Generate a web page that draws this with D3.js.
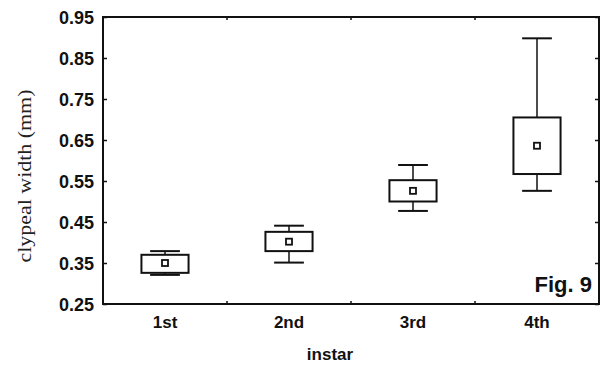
<html>
<script src="https://d3js.org/d3.v7.min.js"></script>
<style>
body { margin: 0; background: white; }
.tick text { font-family: 'Liberation Sans', Arial, sans-serif; font-weight: bold; fill: #111; }
</style>
<body>
<svg width="609" height="368"></svg>
<script>
// clypeal width per instar (mm)
const categories = ["1st", "2nd", "3rd", "4th"];
const whiskerLow = [0.321, 0.351, 0.477, 0.526];
const boxLow = [0.326, 0.379, 0.500, 0.567];
const middle = [0.350, 0.402, 0.526, 0.636];
const boxHigh = [0.370, 0.426, 0.552, 0.705];
const whiskerHigh = [0.379, 0.441, 0.589, 0.898];
const yTicks = [0.25, 0.35, 0.45, 0.55, 0.65, 0.75, 0.85, 0.95];

const pLeft = 103, pRight = 599, pTop = 17, pBottom = 304;
const svg = d3.select("svg");

const x = d3.scaleBand().domain(categories).range([pLeft, pRight]);
const y = d3.scaleLinear().domain([0.25, 0.95]).range([pBottom, pTop]);

const data = categories.map((c, i) => ({
    cat: c, wl: whiskerLow[i], bl: boxLow[i], m: middle[i], bh: boxHigh[i], wh: whiskerHigh[i]
}));

// y axis, ticks inward
const yAxis = svg.append("g")
    .attr("transform", `translate(${pLeft},0)`)
    .call(d3.axisLeft(y).tickValues(yTicks).tickFormat(d3.format(".2f")).tickSizeInner(-4).tickSizeOuter(0).tickPadding(9));
yAxis.select(".domain").remove();
yAxis.selectAll("line").attr("stroke", "#111").attr("stroke-width", 1.5);
yAxis.selectAll("text").style("font-size", "18px").attr("dy", "0.36em");

svg.append("g")
    .attr("transform", `translate(${pRight},0)`)
    .call(d3.axisRight(y).tickValues(yTicks).tickFormat("").tickSizeInner(-4).tickSizeOuter(0))
    .call(g => g.select(".domain").remove())
    .selectAll("line").attr("stroke", "#111").attr("stroke-width", 1.5);

// x axis: labels at centers, ticks at band boundaries
const xAxis = svg.append("g")
    .attr("transform", `translate(0,${pBottom})`)
    .call(d3.axisBottom(x).tickSize(0).tickPadding(12));
xAxis.select(".domain").remove();
xAxis.selectAll("text").style("font-size", "17px");

const bounds = categories.slice(1).map(c => x(c));
svg.selectAll(".xb").data(bounds).enter().append("line")
    .attr("x1", d => d).attr("x2", d => d)
    .attr("y1", pBottom).attr("y2", pBottom - 3)
    .attr("stroke", "#111").attr("stroke-width", 1.5);
svg.selectAll(".xt").data(bounds).enter().append("line")
    .attr("x1", d => d).attr("x2", d => d)
    .attr("y1", pTop).attr("y2", pTop + 3)
    .attr("stroke", "#111").attr("stroke-width", 1.5);

// frame
svg.append("rect")
    .attr("x", pLeft).attr("y", pTop)
    .attr("width", pRight - pLeft).attr("height", pBottom - pTop)
    .attr("fill", "none").attr("stroke", "#111").attr("stroke-width", 2);

// boxes
const boxW = x.bandwidth() * 0.38;
const capW = x.bandwidth() * 0.24;
const g = svg.selectAll(".box").data(data).enter().append("g")
    .attr("transform", d => `translate(${x(d.cat) + x.bandwidth() / 2},0)`);

g.append("line").attr("y1", d => y(d.wh)).attr("y2", d => y(d.bh))
    .attr("stroke", "#111").attr("stroke-width", 1.5);
g.append("line").attr("y1", d => y(d.bl)).attr("y2", d => y(d.wl))
    .attr("stroke", "#111").attr("stroke-width", 1.5);
g.append("line").attr("x1", -capW / 2).attr("x2", capW / 2)
    .attr("y1", d => y(d.wh)).attr("y2", d => y(d.wh))
    .attr("stroke", "#111").attr("stroke-width", 2);
g.append("line").attr("x1", -capW / 2).attr("x2", capW / 2)
    .attr("y1", d => y(d.wl)).attr("y2", d => y(d.wl))
    .attr("stroke", "#111").attr("stroke-width", 2);
g.append("rect")
    .attr("x", -boxW / 2).attr("width", boxW)
    .attr("y", d => y(d.bh)).attr("height", d => y(d.bl) - y(d.bh))
    .attr("fill", "white").attr("stroke", "#111").attr("stroke-width", 2);
g.append("rect")
    .attr("x", -3).attr("width", 6)
    .attr("y", d => y(d.m) - 3).attr("height", 6)
    .attr("fill", "white").attr("stroke", "#111").attr("stroke-width", 1.8);

// titles
svg.append("text")
    .attr("transform", "translate(31,176) rotate(-90)")
    .attr("text-anchor", "middle")
    .attr("textLength", 173).attr("lengthAdjust", "spacingAndGlyphs")
    .style("font-family", "'Liberation Serif', 'Times New Roman', serif")
    .style("font-size", "18px").attr("fill", "#222")
    .text("clypeal width (mm)");

svg.append("text")
    .attr("x", 330).attr("y", 360)
    .attr("text-anchor", "middle")
    .style("font-family", "'Liberation Sans', Arial, sans-serif")
    .style("font-weight", "bold").style("font-size", "17px").attr("fill", "#111")
    .text("instar");

svg.append("text")
    .attr("x", 592).attr("y", 292)
    .attr("text-anchor", "end")
    .style("font-family", "'Liberation Sans', Arial, sans-serif")
    .style("font-weight", "bold").style("font-size", "22px").attr("fill", "#111")
    .text("Fig. 9");
</script>
</body>
</html>
